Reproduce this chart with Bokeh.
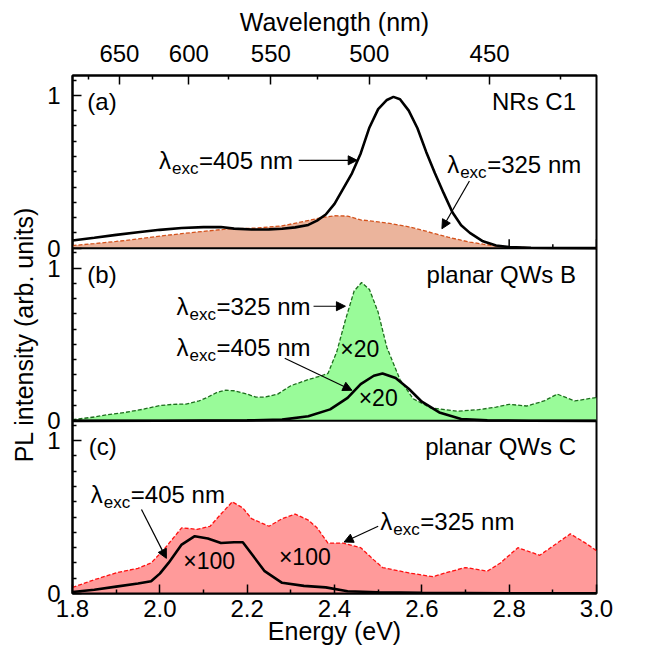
from bokeh.plotting import figure
from bokeh.models import (FixedTicker, LinearAxis, CustomJSTickFormatter, PrintfTickFormatter,
                          Span, Label, Arrow, NormalHead)
from bokeh.embed import file_html
from bokeh.resources import INLINE

# ---------------- data ----------------
energy_ticks = [1.8, 2.0, 2.2, 2.4, 2.6, 2.8, 3.0]
energy_minor = [1.9, 2.1, 2.3, 2.5, 2.7, 2.9]
wl_ticks = [650, 600, 550, 500, 450]
wl_minor = [675, 625, 575, 525, 475, 425]
HC = 1239.84  # eV*nm

# (a) NRs C1
a_405_E = [1.80, 1.85, 1.90, 1.95, 2.00, 2.05, 2.10, 2.14, 2.17, 2.21, 2.25, 2.28, 2.31, 2.34, 2.36,
           2.38, 2.40, 2.42, 2.44, 2.46, 2.48, 2.50, 2.52, 2.535, 2.55, 2.57, 2.59, 2.61, 2.63, 2.65,
           2.67, 2.69, 2.71, 2.74, 2.77, 2.80, 2.85, 2.90, 3.00]
a_405_I = [0.050, 0.068, 0.087, 0.104, 0.120, 0.132, 0.138, 0.138, 0.128, 0.122, 0.123, 0.127, 0.136, 0.152, 0.180,
           0.220, 0.290, 0.390, 0.490, 0.620, 0.790, 0.910, 0.970, 0.990, 0.975, 0.900, 0.785, 0.630, 0.490, 0.360,
           0.235, 0.150, 0.100, 0.045, 0.018, 0.007, 0.003, 0.001, 0.000]
a_325_E = [1.80, 1.85, 1.90, 1.95, 2.00, 2.05, 2.10, 2.16, 2.22, 2.28, 2.33, 2.37, 2.40, 2.43, 2.46,
           2.50, 2.53, 2.57, 2.60, 2.63, 2.66, 2.69, 2.71, 2.74, 2.77, 2.80, 2.85, 2.90, 3.00]
a_325_I = [0.017, 0.030, 0.044, 0.060, 0.079, 0.095, 0.110, 0.127, 0.131, 0.146, 0.175, 0.200, 0.212, 0.210, 0.185,
           0.172, 0.160, 0.140, 0.118, 0.095, 0.072, 0.052, 0.040, 0.026, 0.015, 0.007, 0.003, 0.001, 0.000]

# (b) planar QWs B
b_325_E = [1.80, 1.85, 1.88, 1.92, 1.96, 2.00, 2.03, 2.06, 2.09, 2.11, 2.13, 2.15, 2.17, 2.20, 2.22,
           2.24, 2.27, 2.30, 2.34, 2.37, 2.385, 2.405, 2.425, 2.445, 2.462, 2.48, 2.50, 2.52, 2.55, 2.58,
           2.62, 2.68, 2.73, 2.77, 2.80, 2.84, 2.88, 2.91, 2.95, 3.00]
b_325_I = [0.007, 0.025, 0.040, 0.055, 0.075, 0.100, 0.108, 0.110, 0.130, 0.155, 0.185, 0.200, 0.197, 0.175, 0.155,
           0.155, 0.175, 0.230, 0.270, 0.295, 0.310, 0.450, 0.660, 0.850, 0.905, 0.860, 0.710, 0.480, 0.270, 0.145,
           0.085, 0.063, 0.073, 0.090, 0.108, 0.097, 0.130, 0.175, 0.130, 0.153]
b_405_E = [1.80, 2.00, 2.20, 2.28, 2.34, 2.39, 2.43, 2.46, 2.49, 2.51, 2.54, 2.57, 2.60, 2.64, 2.69, 2.75, 2.85, 3.00]
b_405_I = [0.000, 0.001, 0.003, 0.008, 0.030, 0.075, 0.150, 0.240, 0.295, 0.310, 0.280, 0.210, 0.125, 0.055, 0.012,
           0.003, 0.001, 0.000]

# (c) planar QWs C
c_325_E = [1.80, 1.85, 1.90, 1.95, 1.98, 2.01, 2.05, 2.085, 2.115, 2.14, 2.166, 2.19, 2.21, 2.25, 2.28,
           2.31, 2.34, 2.36, 2.385, 2.42, 2.46, 2.49, 2.51, 2.57, 2.625, 2.66, 2.70, 2.75, 2.78, 2.82,
           2.87, 2.90, 2.94, 2.975, 3.00]
c_325_I = [0.040, 0.090, 0.135, 0.165, 0.200, 0.290, 0.430, 0.420, 0.440, 0.520, 0.600, 0.560, 0.490, 0.440, 0.490,
           0.520, 0.480, 0.430, 0.330, 0.330, 0.300, 0.220, 0.170, 0.135, 0.110, 0.140, 0.170, 0.146, 0.200, 0.300,
           0.250, 0.310, 0.390, 0.330, 0.280]
c_405_E = [1.80, 1.85, 1.90, 1.95, 1.98, 2.00, 2.02, 2.05, 2.08, 2.11, 2.14, 2.17, 2.19, 2.21, 2.24, 2.28,
           2.33, 2.38, 2.43, 2.50, 2.60, 2.80, 3.00]
c_405_I = [0.010, 0.025, 0.045, 0.065, 0.080, 0.130, 0.200, 0.320, 0.375, 0.360, 0.330, 0.335, 0.335, 0.260, 0.146,
           0.070, 0.050, 0.040, 0.015, 0.008, 0.004, 0.002, 0.001]

# ---------------- layout / style ----------------
H = 1.13          # height of one panel in data units
FONT = "Liberation Sans"
PX_PER_UNIT = 518 / (3 * H)

p = figure(width=646, height=648, x_range=(1.8, 3.0), y_range=(0, 3 * H),
           output_backend="svg", toolbar_location=None,
           min_border_left=72, min_border_right=50, min_border_top=75, min_border_bottom=55)
p.xgrid.visible = False
p.ygrid.visible = False
p.outline_line_color = "black"
p.outline_line_width = 2
p.outline_line_alpha = 1.0
p.background_fill_color = "white"
p.border_fill_color = "white"


def style_axis(ax, standoff, title_standoff):
    ax.major_tick_in = 9
    ax.major_tick_out = 0
    ax.minor_tick_in = 4
    ax.minor_tick_out = 0
    ax.major_tick_line_width = 1.5
    ax.minor_tick_line_width = 1.5
    ax.major_tick_line_color = "black"
    ax.minor_tick_line_color = "black"
    ax.axis_line_width = 2
    ax.axis_line_color = "black"
    ax.major_label_text_font = FONT
    ax.major_label_text_font_size = "24px"
    ax.major_label_text_color = "black"
    ax.major_label_standoff = standoff
    ax.axis_label_text_font = FONT
    ax.axis_label_text_font_size = "25px"
    ax.axis_label_text_font_style = "normal"
    ax.axis_label_text_color = "black"
    ax.axis_label_standoff = title_standoff


xa = p.xaxis[0]
xa.ticker = FixedTicker(ticks=energy_ticks, minor_ticks=energy_minor)
xa.formatter = PrintfTickFormatter(format="%.1f")
xa.axis_label = "Energy (eV)"
style_axis(xa, 6, -3)

ya = p.yaxis[0]
ya.ticker = FixedTicker(ticks=[k * H + v for k in range(3) for v in (0.0, 1.0)],
                        minor_ticks=[k * H + 0.1 * j for k in range(3) for j in (1, 2, 3, 4, 5, 6, 7, 8, 9, 11)])
ya.formatter = CustomJSTickFormatter(args=dict(H=H),
                                     code="const r = tick % H; return (Math.min(r, H - r) < 0.05) ? '0' : '1';")
ya.axis_label = "PL intensity (arb. units)"
style_axis(ya, 12, 6)

top = LinearAxis(ticker=FixedTicker(ticks=[HC / w for w in wl_ticks], minor_ticks=[HC / w for w in wl_minor]),
                 formatter=CustomJSTickFormatter(args=dict(HC=HC), code="return Math.round(HC / tick).toString();"),
                 axis_label="Wavelength (nm)")
style_axis(top, 14, 6)
p.add_layout(top, "above")

# panel separators and their upward ticks
for k in (1, 2):
    p.add_layout(Span(location=k * H, dimension="width", line_color="black", line_width=2))
    p.segment(x0=energy_ticks, x1=energy_ticks, y0=[k * H] * len(energy_ticks),
              y1=[k * H + 9 / PX_PER_UNIT] * len(energy_ticks), line_color="black", line_width=1.5)
    p.segment(x0=energy_minor, x1=energy_minor, y0=[k * H] * len(energy_minor),
              y1=[k * H + 4 / PX_PER_UNIT] * len(energy_minor), line_color="black", line_width=1.5)

# ---------------- curves ----------------
panels = [
    (2 * H, a_325_E, a_325_I, a_405_E, a_405_I, "#ebb49c", "#d4521c"),
    (1 * H, b_325_E, b_325_I, b_405_E, b_405_I, "#99fb99", "#1d6e1d"),
    (0 * H, c_325_E, c_325_I, c_405_E, c_405_I, "#ff9a9a", "#ff1010"),
]
for off, e325, i325, e405, i405, fill, dash in panels:
    p.varea(x=e325, y1=[off] * len(e325), y2=[off + v for v in i325], fill_color=fill)
    p.line(x=e325, y=[off + v for v in i325], line_color=dash, line_width=1.3, line_dash="4 2")
for off, e325, i325, e405, i405, fill, dash in panels:
    p.line(x=e405, y=[off + v for v in i405], line_color="black", line_width=2.6)


# ---------------- annotations ----------------
def text(x, y, s, align="left", size="24px"):
    p.add_layout(Label(x=x, y=y, text=s, text_font=FONT, text_font_size=size, text_color="black",
                       text_align=align, text_baseline="middle"))


def lam_label(x, y, nm):
    p.add_layout(Label(x=x, y=y, text="λ", text_font=FONT, text_font_size="24px",
                       text_baseline="middle", text_align="left", text_color="black"))
    p.add_layout(Label(x=x, y=y, text="exc", x_offset=13, y_offset=-8, text_font=FONT, text_font_size="17px",
                       text_baseline="middle", text_align="left", text_color="black"))
    p.add_layout(Label(x=x, y=y, text="=%d nm" % nm, x_offset=40, text_font=FONT, text_font_size="24px",
                       text_baseline="middle", text_align="left", text_color="black"))


def arrow(x0, y0, x1, y1):
    p.add_layout(Arrow(end=NormalHead(size=9, fill_color="black", line_color="black", line_width=1),
                       x_start=x0, y_start=y0, x_end=x1, y_end=y1, line_width=1.2, line_color="black"))


oa, ob, oc = 2 * H, H, 0.0
# panel (a)
text(1.834, oa + 0.96, "(a)")
text(2.953, oa + 0.96, "NRs C1", align="right")
lam_label(1.998, oa + 0.575, 405)
arrow(2.318, oa + 0.575, 2.452, oa + 0.575)
lam_label(2.658, oa + 0.55, 325)
arrow(2.709, oa + 0.44, 2.646, oa + 0.127)
# panel (b)
text(1.834, ob + 0.96, "(b)")
text(2.953, ob + 0.96, "planar QWs B", align="right")
lam_label(2.038, ob + 0.75, 325)
arrow(2.352, ob + 0.75, 2.425, ob + 0.75)
lam_label(2.038, ob + 0.48, 405)
arrow(2.286, ob + 0.41, 2.44, ob + 0.20)
text(2.458, ob + 0.47, "×20", align="center", size="23px")
text(2.50, ob + 0.15, "×20", align="center", size="23px")
# panel (c)
text(1.837, oc + 0.96, "(c)")
text(2.953, oc + 0.96, "planar QWs C", align="right")
lam_label(1.842, oc + 0.65, 405)
arrow(1.958, oc + 0.55, 2.015, oc + 0.23)
text(2.113, oc + 0.213, "×100", align="center", size="23px")
text(2.332, oc + 0.236, "×100", align="center", size="23px")
lam_label(2.505, oc + 0.47, 325)
arrow(2.50, oc + 0.44, 2.422, oc + 0.337)

open("out.html", "w").write(file_html(p, INLINE))
